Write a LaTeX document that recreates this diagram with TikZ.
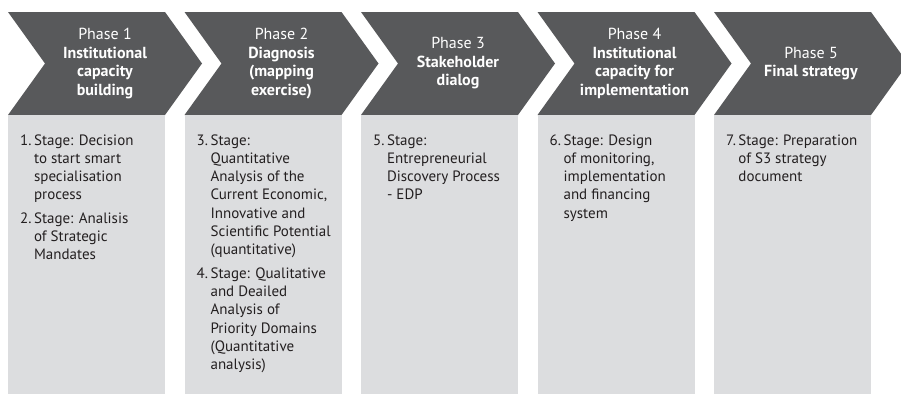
\documentclass[tikz,border=0pt]{standalone}
\usepackage{fontspec}
\setmainfont{PT Sans}
\definecolor{phasegray}{HTML}{58595B}
\definecolor{stagegray}{HTML}{DCDDDF}
\definecolor{stageink}{HTML}{231F20}
\newcommand\stagelist[1]{\begin{tabular}[t]{@{}l@{\,}l@{}}#1\end{tabular}}
\tikzset{
  phase/.style={fill=phasegray},
  stage/.style={fill=stagegray},
  phasetext/.style={text=white, align=center, inner sep=0pt,
    font=\fontsize{16}{18.5}\selectfont},
  stagetext/.style={anchor=north west, text=stageink, inner sep=0pt,
    font=\fontsize{15}{18.3}\selectfont}
}

\begin{document}
\begin{tikzpicture}[x=1pt,y=-1pt]
\useasboundingbox (0,0) rectangle (901,394);
% chevrons and stage columns
\foreach \i in {0,...,4}{
  \pgfmathsetmacro\xl{8+176.5*\i}
  \draw[phase,draw=none] (\xl,12) -- ++(157,0) -- ++(37,51.5) -- ++(-37,51.5)
    -- ++(-157,0) -- ++(37,-51.5) -- cycle;
  \fill[stage] (\xl,115) rectangle ++(157,279);
}
% phase headings
\node[phasetext] (head1) at (105,63.5) {Phase 1\\\textbf{Institutional}\\\textbf{capacity}\\\textbf{building}};
\node[phasetext] (head2) at (281.5,63.5) {Phase 2\\\textbf{Diagnosis}\\\textbf{(mapping}\\\textbf{exercise)}};
\node[phasetext] (head3) at (458,63.5) {Phase 3\\\textbf{Stakeholder}\\\textbf{dialog}};
\node[phasetext] (head4) at (634.5,63.5) {Phase 4\\\textbf{Institutional}\\\textbf{capacity for}\\\textbf{implementation}};
\node[phasetext] (head5) at (811,63.5) {Phase 5\\\textbf{Final strategy}};
% stages
\node[stagetext] (stage1) at (20,132) {\stagelist{
1. & Stage: Decision\\ & to start smart\\ & specialisation\\ & process\\[5pt]
2. & Stage: Analisis\\ & of Strategic\\ & Mandates}};
\node[stagetext] (stage2) at (196.5,132) {\stagelist{
3. & Stage:\\ & Quantitative\\ & Analysis of the\\ & Current Economic,\\ & Innovative and\\
 & Scientific Potential\\ & (quantitative)\\[5pt]
4. & Stage: Qualitative\\ & and Deailed\\ & Analysis of\\ & Priority Domains\\
 & (Quantitative\\ & analysis)}};
\node[stagetext] (stage3) at (373,132) {\stagelist{
5. & Stage:\\ & Entrepreneurial\\ & Discovery Process\\ & - EDP}};
\node[stagetext] (stage4) at (549.5,132) {\stagelist{
6. & Stage: Design\\ & of monitoring,\\ & implementation\\ & and financing\\ & system}};
\node[stagetext] (stage5) at (726,132) {\stagelist{
7. & Stage: Preparation\\ & of S3 strategy\\ & document}};
\end{tikzpicture}
\end{document}
